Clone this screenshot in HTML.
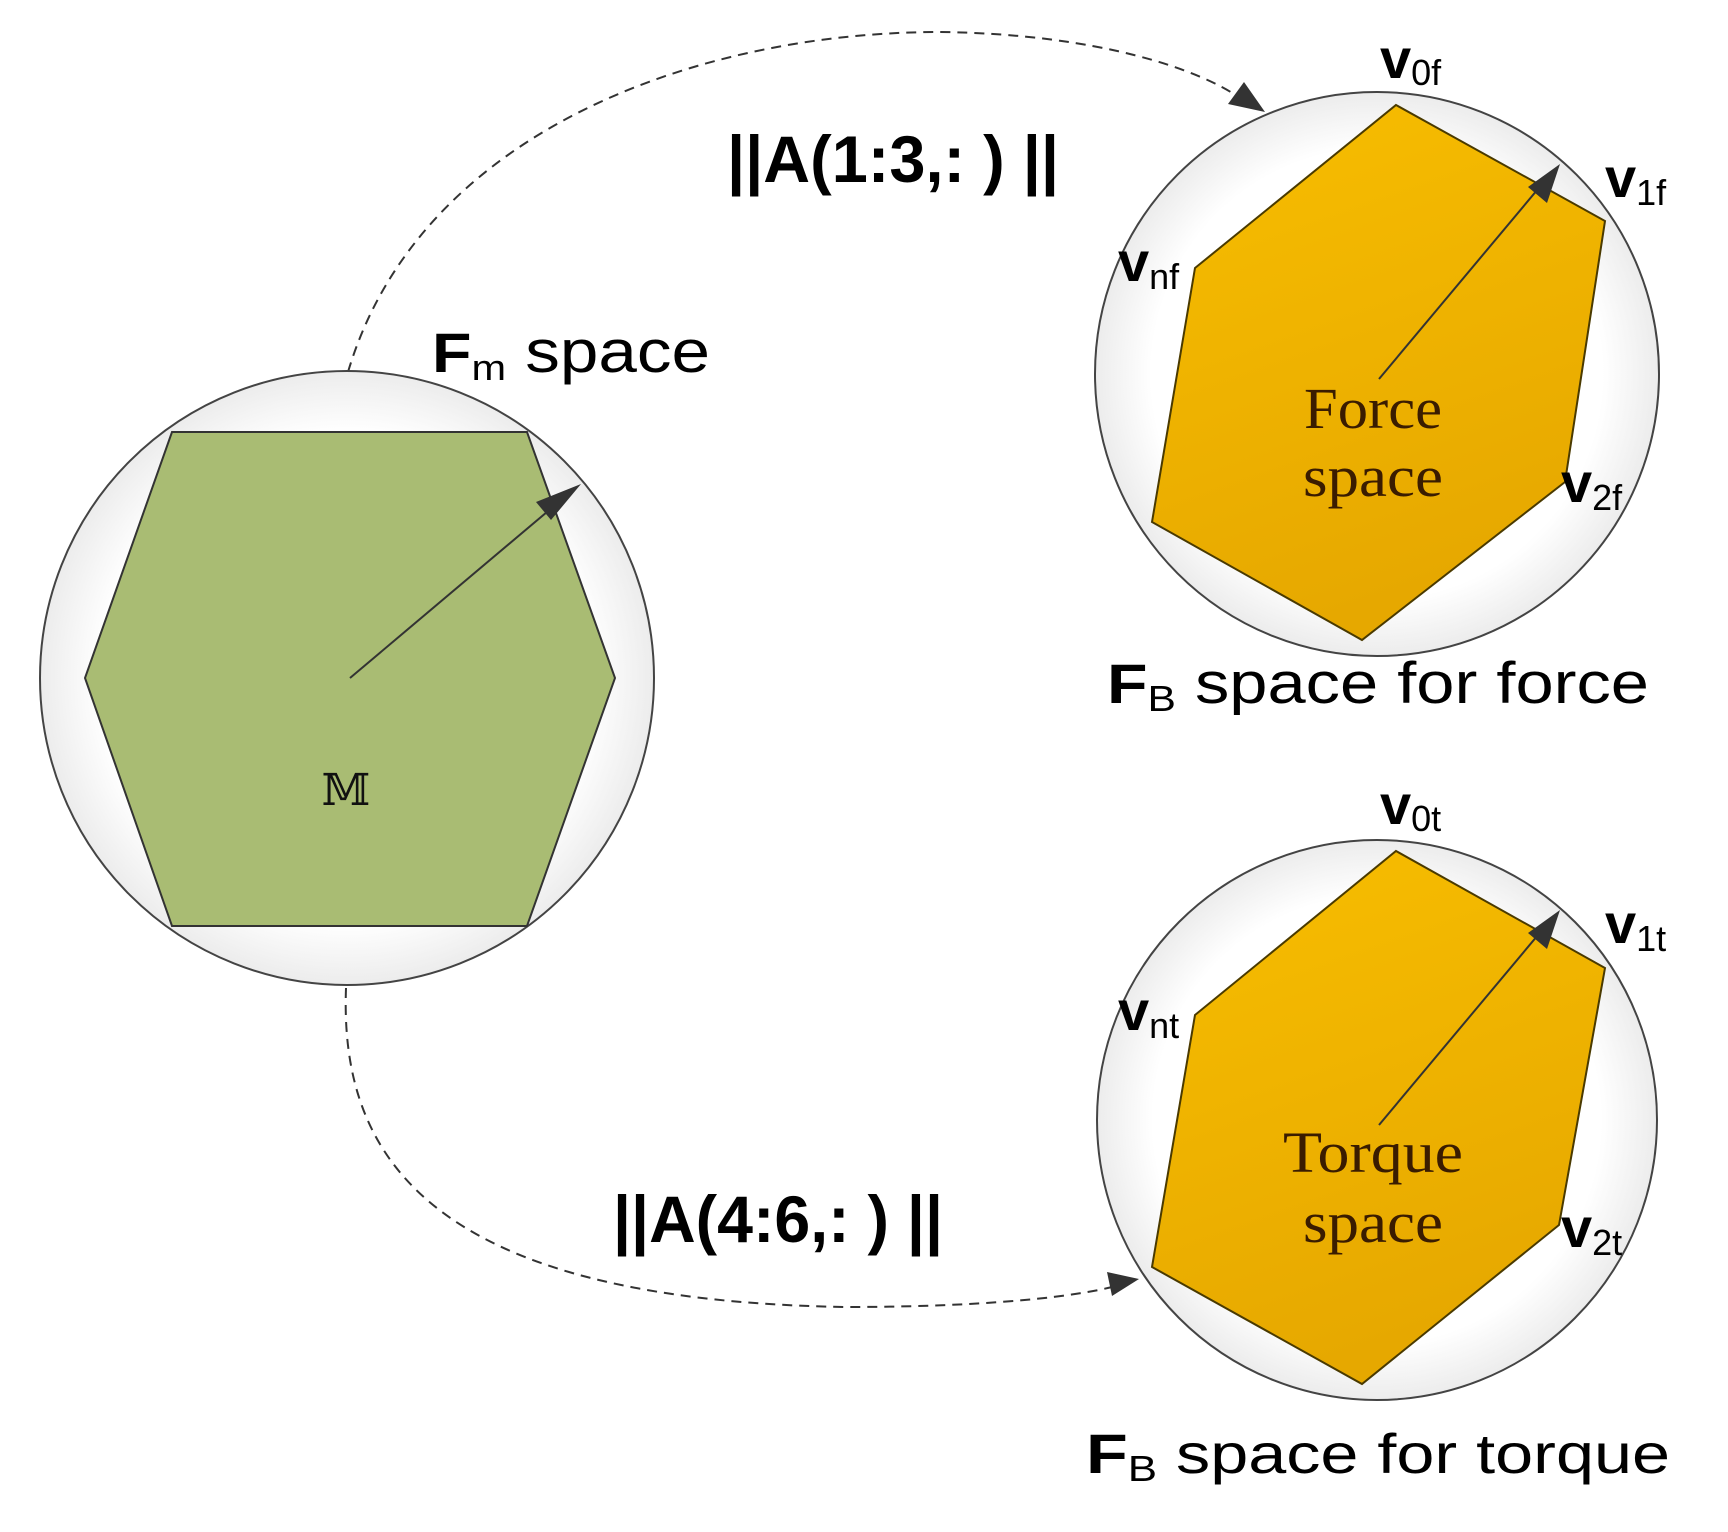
<!DOCTYPE html>
<html><head><meta charset="utf-8"><style>
html,body{margin:0;padding:0;background:#fff;}
svg{display:block;}
.v{font-family:"Liberation Sans",sans-serif;font-weight:bold;font-size:56px;fill:#000;}
.s{font-family:"Liberation Sans",sans-serif;font-size:36px;fill:#000;}
.sv{font-family:"Liberation Serif",serif;font-size:58px;fill:#3a1c00;}
</style></head><body>
<svg width="1728" height="1532" viewBox="0 0 1728 1532" xmlns="http://www.w3.org/2000/svg">
<defs>
<radialGradient id="cg" cx="50%" cy="50%" r="50%">
<stop offset="0.8" stop-color="#ffffff"/><stop offset="1" stop-color="#ececec"/>
</radialGradient>
<linearGradient id="og" x1="0" y1="0" x2="0.3" y2="1">
<stop offset="0" stop-color="#f8be00"/><stop offset="1" stop-color="#e6a800"/>
</linearGradient>
</defs>

<path d="M348,372 C420,130 700,32 940,32 C1100,34 1200,70 1240,98" fill="none" stroke="#333" stroke-width="2" stroke-dasharray="10,7"/>
<polygon points="1265,112 1228,104 1244,82" fill="#333"/>
<path d="M346,988 C340,1150 420,1300 845,1307 C1000,1307 1080,1295 1112,1287" fill="none" stroke="#333" stroke-width="2" stroke-dasharray="10,7"/>
<polygon points="1139,1279 1112,1296 1107,1272" fill="#333"/>

<circle cx="347" cy="678" r="307" fill="url(#cg)" stroke="#444" stroke-width="2"/>
<polygon points="172,432 527,432 615,678 527,926 172,926 85,678" fill="#a9bc73" stroke="#333" stroke-width="2"/>
<line x1="350" y1="678" x2="560" y2="501" stroke="#333" stroke-width="2"/>
<polygon points="581,484 551,520 536,502" fill="#333"/>
<text x="346" y="805" font-family="DejaVu Serif, 'Liberation Serif', serif" font-size="44" text-anchor="middle" fill="#111">𝕄</text>

<text x="432" y="372" textLength="278" lengthAdjust="spacingAndGlyphs"><tspan class="v" font-size="56">F</tspan><tspan class="s" font-size="38" dy="8">m</tspan><tspan font-family="Liberation Sans, sans-serif" font-size="60" dy="-8"> space</tspan></text>

<circle cx="1377" cy="374" r="282" fill="url(#cg)" stroke="#444" stroke-width="2"/>
<polygon points="1396,105 1605,221 1565,482 1362,640 1152,522 1195,268" fill="url(#og)" stroke="#4a3a00" stroke-width="2"/>
<line x1="1379" y1="379" x2="1543" y2="183" stroke="#333" stroke-width="2"/>
<polygon points="1560,164 1547,203 1528,187" fill="#333"/>
<text class="sv" x="1373" y="428" text-anchor="middle" textLength="138" lengthAdjust="spacingAndGlyphs">Force</text>
<text class="sv" x="1373" y="496" text-anchor="middle" textLength="140" lengthAdjust="spacingAndGlyphs">space</text>
<text x="1380" y="78"><tspan class="v">v</tspan><tspan class="s" dy="7">0f</tspan></text>
<text x="1605" y="197"><tspan class="v">v</tspan><tspan class="s" dy="8">1f</tspan></text>
<text x="1118" y="281"><tspan class="v">v</tspan><tspan class="s" dy="8">nf</tspan></text>
<text x="1561" y="502"><tspan class="v">v</tspan><tspan class="s" dy="8">2f</tspan></text>
<text x="1107" y="703" textLength="542" lengthAdjust="spacingAndGlyphs"><tspan class="v" font-size="56">F</tspan><tspan class="s" font-size="34" dy="8">B</tspan><tspan font-family="Liberation Sans, sans-serif" font-size="58" dy="-8"> space for force</tspan></text>

<circle cx="1377" cy="1120" r="280" fill="url(#cg)" stroke="#444" stroke-width="2"/>
<polygon points="1396,851 1605,968 1559,1225 1362,1384 1152,1267 1195,1015" fill="url(#og)" stroke="#4a3a00" stroke-width="2"/>
<line x1="1379" y1="1125" x2="1543" y2="929" stroke="#333" stroke-width="2"/>
<polygon points="1560,910 1547,949 1528,933" fill="#333"/>
<text class="sv" x="1373" y="1172" text-anchor="middle" textLength="180" lengthAdjust="spacingAndGlyphs">Torque</text>
<text class="sv" x="1373" y="1242" text-anchor="middle" textLength="140" lengthAdjust="spacingAndGlyphs">space</text>
<text x="1380" y="824"><tspan class="v">v</tspan><tspan class="s" dy="7">0t</tspan></text>
<text x="1605" y="943"><tspan class="v">v</tspan><tspan class="s" dy="8">1t</tspan></text>
<text x="1118" y="1030"><tspan class="v">v</tspan><tspan class="s" dy="8">nt</tspan></text>
<text x="1561" y="1247"><tspan class="v">v</tspan><tspan class="s" dy="8">2t</tspan></text>
<text x="1086" y="1473" textLength="584" lengthAdjust="spacingAndGlyphs"><tspan class="v" font-size="54">F</tspan><tspan class="s" font-size="34" dy="8">B</tspan><tspan font-family="Liberation Sans, sans-serif" font-size="56" dy="-8"> space for torque</tspan></text>

<text x="727" y="182" font-family="Liberation Sans, sans-serif" font-weight="bold" font-size="66" textLength="332" lengthAdjust="spacingAndGlyphs">||A(1:3,: ) ||</text>
<text x="613" y="1242" font-family="Liberation Sans, sans-serif" font-weight="bold" font-size="66" textLength="330" lengthAdjust="spacingAndGlyphs">||A(4:6,: ) ||</text>
</svg>
</body></html>
